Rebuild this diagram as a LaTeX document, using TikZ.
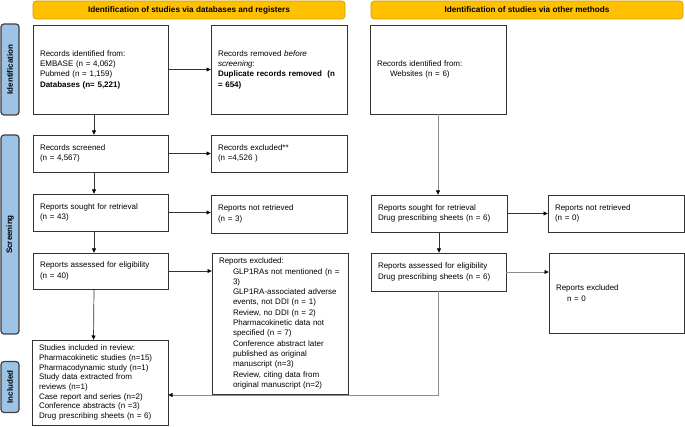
\documentclass[tikz,border=0pt]{standalone}
\usepackage{fontspec}
\setmainfont{Liberation Sans}
\usetikzlibrary{arrows.meta}
\definecolor{hdrorange}{HTML}{FFC000}
\definecolor{hdrborder}{HTML}{D09C00}
\definecolor{stageblue}{HTML}{9DC3E6}

\begin{document}
\begin{tikzpicture}
	[x=1pt, y=-1pt,
	font=\fontsize{8}{10.3}\selectfont,
	box/.style={draw=black!80, line width=0.9pt, anchor=north west, inner xsep=7pt,
		inner ysep=0pt, outer sep=0pt, align=left},
	header/.style={draw=hdrborder, fill=hdrorange, line width=0.6pt, rounded corners=3pt,
		font=\fontsize{8.2}{10}\selectfont\bfseries, minimum height=18pt, inner sep=0pt},
	stage/.style={draw=black!75, fill=stageblue, line width=1.2pt, rounded corners=3pt,
		font=\fontsize{8}{10}\selectfont\bfseries, minimum height=18pt, inner sep=0pt, rotate=90},
	arrow/.style={-{Latex[length=4.5pt,width=4.5pt,color=black]}, black!80, line width=0.7pt},
	garrow/.style={arrow, draw=black!45}]

	\useasboundingbox (0,0) rectangle (685,427);

	% Draw headers
	\node[header, minimum width=312pt] (hdrdb) at (189,10) {Identification of studies via databases and registers};
	\node[header, minimum width=312pt] (hdrother) at (527,10) {Identification of studies via other methods};

	% Draw stage labels
	\node[stage, minimum width=91pt] (stid) at (10,69.5) {Identification};
	\node[stage, minimum width=199pt] (stscr) at (10,234.5) {Screening};
	\node[stage, minimum width=51pt] (stinc) at (10,387) {Included};

	% Databases column
	\node[box, text width=121pt, minimum height=89pt] (ident) at (33,25)
		{Records identified from:\\EMBASE (n = 4,062)\\Pubmed (n = 1,159)\\\textbf{Databases (n= 5,221)}};
	\node[box, text width=122pt, minimum height=89pt] (removed) at (211,25)
		{Records removed \textit{before}\\\textit{screening}:\\\textbf{Duplicate records removed\ \ (n}\\\textbf{= 654)}};
	\node[box, text width=121pt, minimum height=37pt] (screened) at (33,135)
		{Records screened\\(n = 4,567)};
	\node[box, text width=122pt, minimum height=37pt] (excluded) at (211,135)
		{Records excluded**\\(n =4,526 )};
	\node[box, text width=121pt, minimum height=37pt] (sought) at (33,194)
		{Reports sought for retrieval\\(n = 43)};
	\node[box, text width=122pt, minimum height=38pt] (notret) at (211,195)
		{Reports not retrieved\\(n = 3)};
	\node[box, text width=121pt, minimum height=36pt] (assessed) at (33,253)
		{Reports assessed for eligibility\\(n = 40)};
	\node[box, text width=122pt, minimum height=141pt] (exclrep) at (212,253)
		{Reports excluded:\\
		\hspace*{14pt}GLP1RAs not mentioned (n =\\
		\hspace*{14pt}3)\\
		\hspace*{14pt}GLP1RA-associated adverse\\
		\hspace*{14pt}events, not DDI (n = 1)\\
		\hspace*{14pt}Review, no DDI (n = 2)\\
		\hspace*{14pt}Pharmacokinetic data not\\
		\hspace*{14pt}specified (n = 7)\\
		\hspace*{14pt}Conference abstract later\\
		\hspace*{14pt}published as original\\
		\hspace*{14pt}manuscript (n=3)\\
		\hspace*{14pt}Review, citing data from\\
		\hspace*{14pt}original manuscript (n=2)};
	\node[box, text width=122pt, minimum height=85pt, font=\fontsize{8}{9.7}\selectfont] (studies) at (32,340)
		{Studies included in review:\\Pharmacokinetic studies (n=15)\\Pharmacodynamic study (n=1)\\
		Study data extracted from\\reviews (n=1)\\Case report and series (n=2)\\
		Conference abstracts (n =3)\\Drug prescribing sheets (n = 6)};

	% Other methods column
	\node[box, text width=122pt, minimum height=89pt] (web) at (370,25)
		{Records identified from:\\\hspace*{13pt}Websites (n = 6)};
	\node[box, text width=122pt, minimum height=37pt] (soughtR) at (371,195)
		{Reports sought for retrieval\\Drug prescribing sheets (n = 6)};
	\node[box, text width=122pt, minimum height=37pt] (notretR) at (548,195)
		{Reports not retrieved\\(n = 0)};
	\node[box, text width=121pt, minimum height=38pt] (assessedR) at (371,253)
		{Reports assessed for eligibility\\Drug prescribing sheets (n = 6)};
	\node[box, text width=121pt, minimum height=80pt] (exclR) at (549,253)
		{Reports excluded\\\hspace*{11pt}n = 0};

	% Draw arrows
	\draw[arrow] (ident) -- (removed);
	\draw[arrow] ([xshift=-6.5pt]ident.south) -- ([xshift=-6.5pt]screened.north);
	\draw[arrow] (screened) -- (excluded);
	\draw[arrow] ([xshift=-6.5pt]screened.south) -- ([xshift=-6.5pt]sought.north);
	\draw[arrow] (sought.east) -- (sought.east -| notret.west);
	\draw[arrow] ([xshift=-6.5pt]sought.south) -- ([xshift=-6.5pt]assessed.north);
	\draw[arrow] (assessed.east) -- (assessed.east -| exclrep.west);
	\draw[arrow] ([xshift=-6.5pt]assessed.south) -- ([xshift=-6.5pt]studies.north);

	\draw[garrow] (web.south) -- (web.south |- soughtR.north);
	\draw[arrow] (soughtR) -- (notretR);
	\draw[arrow] (soughtR.south) -- (soughtR.south |- assessedR.north);
	\draw[garrow] (assessedR.east) -- (assessedR.east -| exclR.west);
	\draw[garrow] (assessedR.south) |- ([yshift=-12.5pt]studies.east);

\end{tikzpicture}
\end{document}
